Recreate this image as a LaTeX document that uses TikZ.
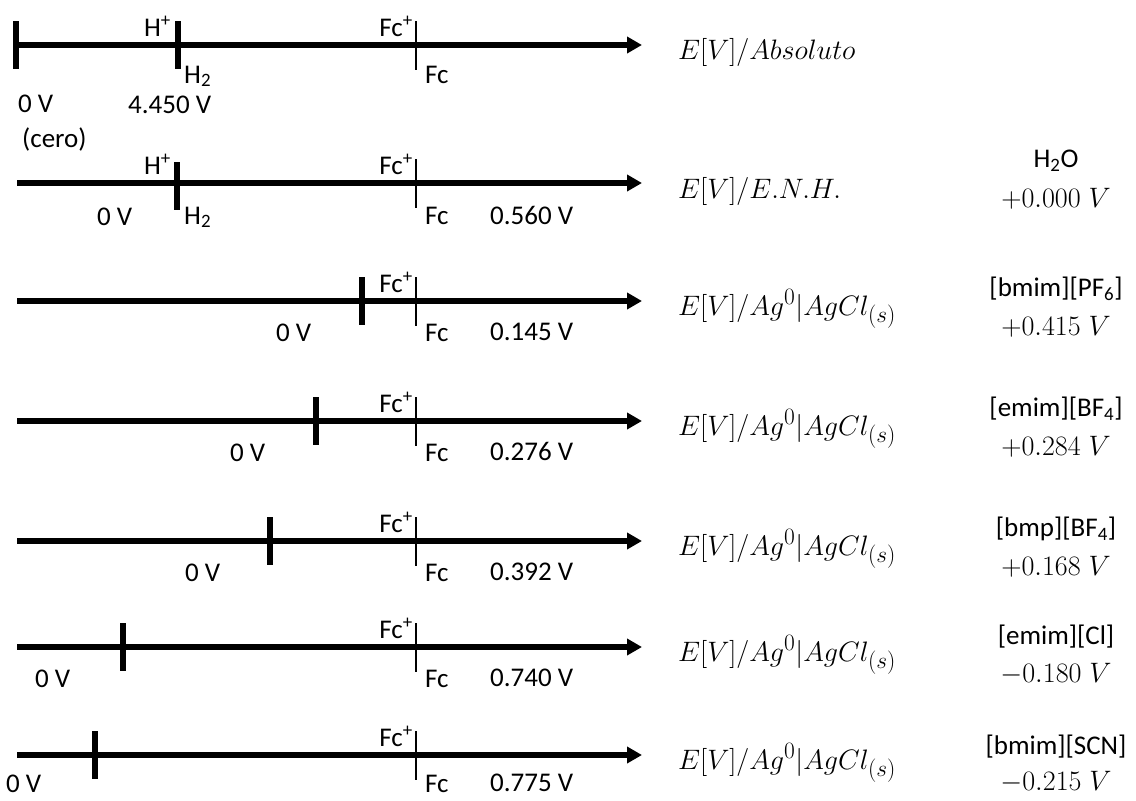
\documentclass[tikz,border=0pt]{standalone}
\usepackage{graphicx}
\usepackage{fontspec}
\setmainfont{Carlito}
\usetikzlibrary{arrows.meta}
\newcommand{\mate}[1]{\scalebox{1.13}{$#1$}}

\begin{document}
\begin{tikzpicture}[x=1pt,y=-1pt,
    eje/.style={line width=5.5pt, -{Triangle[length=15pt,width=16pt]}},
    marca/.style={fill=black, minimum width=5.5pt, minimum height=48pt, inner sep=0pt},
    marcafc/.style={fill=black, minimum width=1.6pt, minimum height=49pt, inner sep=0pt},
    txt/.style={font=\fontsize{27}{30}\selectfont, inner sep=0pt},
    mat/.style={font=\fontsize{24.88}{30}\selectfont, inner sep=0pt}]
    \useasboundingbox (0,0) rectangle (1136,801);

    % Escala absoluta
    \coordinate (ini1) at (16,45);
    \coordinate (fin1) at (642,45);
    \draw[eje] (ini1) -- (fin1);
    \node[marca] (cero1) at (16,45) {};
    \node[marca] (h1) at (178,45) {};
    \node[marcafc] (fc1) at (416,45) {};
    \node[txt, anchor=base east] (hmas1) at (171,36) {H\textsuperscript{+}};
    \node[txt, anchor=base west] (hdos1) at (184,83) {H\textsubscript{2}};
    \node[txt, anchor=base east] (fcmas1) at (413,36) {Fc\textsuperscript{+}};
    \node[txt, anchor=base west] (fcl1) at (425,83) {Fc};
    \node[txt, anchor=base west] (v01) at (18,112) {0 V};
    \node[txt, anchor=base west] (vh1) at (128,113) {4.450 V};
    \node[txt, anchor=base west] (cero) at (22,147) {(cero)};
    \node[mat, anchor=base west] (ref1) at (678,59) {\mate{E[V]/Absoluto}};

    % Escala E.N.H.
    \coordinate (ini2) at (17,183);
    \coordinate (fin2) at (642,183);
    \draw[eje] (ini2) -- (fin2);
    \node[marca] (h2) at (177,186) {};
    \node[marcafc] (fc2) at (416,183) {};
    \node[txt, anchor=base east] (hmas2) at (171,174) {H\textsuperscript{+}};
    \node[txt, anchor=base west] (hdos2) at (184,224) {H\textsubscript{2}};
    \node[txt, anchor=base east] (fcmas2) at (413,174) {Fc\textsuperscript{+}};
    \node[txt, anchor=base west] (fcl2) at (425,224) {Fc};
    \node[txt, anchor=base west] (v02) at (97,225) {0 V};
    \node[txt, anchor=base west] (vfc2) at (490,224) {0.560 V};
    \node[mat, anchor=base west] (ref2) at (678,198) {\mate{E[V]/E.N.H.}};
    \node[txt] (liq2) at (1056,161) {H\textsubscript{2}O};
    \node[mat] (pot2) at (1056,199) {\mate{+0.000\;V}};

    % [bmim][PF6]
    \coordinate (ini3) at (17,301);
    \coordinate (fin3) at (642,301);
    \draw[eje] (ini3) -- (fin3);
    \node[marca] (ag3) at (362,301) {};
    \node[marcafc] (fc3) at (416,301) {};
    \node[txt, anchor=base east] (fcmas3) at (413,292) {Fc\textsuperscript{+}};
    \node[txt, anchor=base west] (fcl3) at (425,341) {Fc};
    \node[txt, anchor=base west] (v03) at (276,341) {0 V};
    \node[txt, anchor=base west] (vfc3) at (490,340) {0.145 V};
    \node[mat, anchor=base west] (ref3) at (678,315) {\mate{E[V]/Ag^0|AgCl_{(s)}}};
    \node[txt] (liq3) at (1056,289) {[bmim][PF\textsubscript{6}]};
    \node[mat] (pot3) at (1056,327) {\mate{+0.415\;V}};

    % [emim][BF4]
    \coordinate (ini4) at (17,421);
    \coordinate (fin4) at (642,421);
    \draw[eje] (ini4) -- (fin4);
    \node[marca] (ag4) at (316,421) {};
    \node[marcafc] (fc4) at (416,421) {};
    \node[txt, anchor=base east] (fcmas4) at (413,412) {Fc\textsuperscript{+}};
    \node[txt, anchor=base west] (fcl4) at (425,461) {Fc};
    \node[txt, anchor=base west] (v04) at (230,461) {0 V};
    \node[txt, anchor=base west] (vfc4) at (490,460) {0.276 V};
    \node[mat, anchor=base west] (ref4) at (678,435) {\mate{E[V]/Ag^0|AgCl_{(s)}}};
    \node[txt] (liq4) at (1056,409) {[emim][BF\textsubscript{4}]};
    \node[mat] (pot4) at (1056,447) {\mate{+0.284\;V}};

    % [bmp][BF4]
    \coordinate (ini5) at (17,541);
    \coordinate (fin5) at (642,541);
    \draw[eje] (ini5) -- (fin5);
    \node[marca] (ag5) at (270,541) {};
    \node[marcafc] (fc5) at (416,541) {};
    \node[txt, anchor=base east] (fcmas5) at (413,532) {Fc\textsuperscript{+}};
    \node[txt, anchor=base west] (fcl5) at (425,581) {Fc};
    \node[txt, anchor=base west] (v05) at (185,581) {0 V};
    \node[txt, anchor=base west] (vfc5) at (490,580) {0.392 V};
    \node[mat, anchor=base west] (ref5) at (678,555) {\mate{E[V]/Ag^0|AgCl_{(s)}}};
    \node[txt] (liq5) at (1056,529) {[bmp][BF\textsubscript{4}]};
    \node[mat] (pot5) at (1056,567) {\mate{+0.168\;V}};

    % [emim][Cl]
    \coordinate (ini6) at (17,647);
    \coordinate (fin6) at (642,647);
    \draw[eje] (ini6) -- (fin6);
    \node[marca] (ag6) at (123,647) {};
    \node[marcafc] (fc6) at (416,647) {};
    \node[txt, anchor=base east] (fcmas6) at (413,638) {Fc\textsuperscript{+}};
    \node[txt, anchor=base west] (fcl6) at (425,687) {Fc};
    \node[txt, anchor=base west] (v06) at (35,687) {0 V};
    \node[txt, anchor=base west] (vfc6) at (490,686) {0.740 V};
    \node[mat, anchor=base west] (ref6) at (678,661) {\mate{E[V]/Ag^0|AgCl_{(s)}}};
    \node[txt] (liq6) at (1056,637) {[emim][Cl]};
    \node[mat] (pot6) at (1056,674) {\mate{-0.180\;V}};

    % [bmim][SCN]
    \coordinate (ini7) at (17,755);
    \coordinate (fin7) at (642,755);
    \draw[eje] (ini7) -- (fin7);
    \node[marca] (ag7) at (95,755) {};
    \node[marcafc] (fc7) at (416,755) {};
    \node[txt, anchor=base east] (fcmas7) at (413,746) {Fc\textsuperscript{+}};
    \node[txt, anchor=base west] (fcl7) at (425,792) {Fc};
    \node[txt, anchor=base west] (v07) at (6,792) {0 V};
    \node[txt, anchor=base west] (vfc7) at (490,791) {0.775 V};
    \node[mat, anchor=base west] (ref7) at (678,769) {\mate{E[V]/Ag^0|AgCl_{(s)}}};
    \node[txt] (liq7) at (1056,747) {[bmim][SCN]};
    \node[mat] (pot7) at (1056,782) {\mate{-0.215\;V}};

\end{tikzpicture}
\end{document}
